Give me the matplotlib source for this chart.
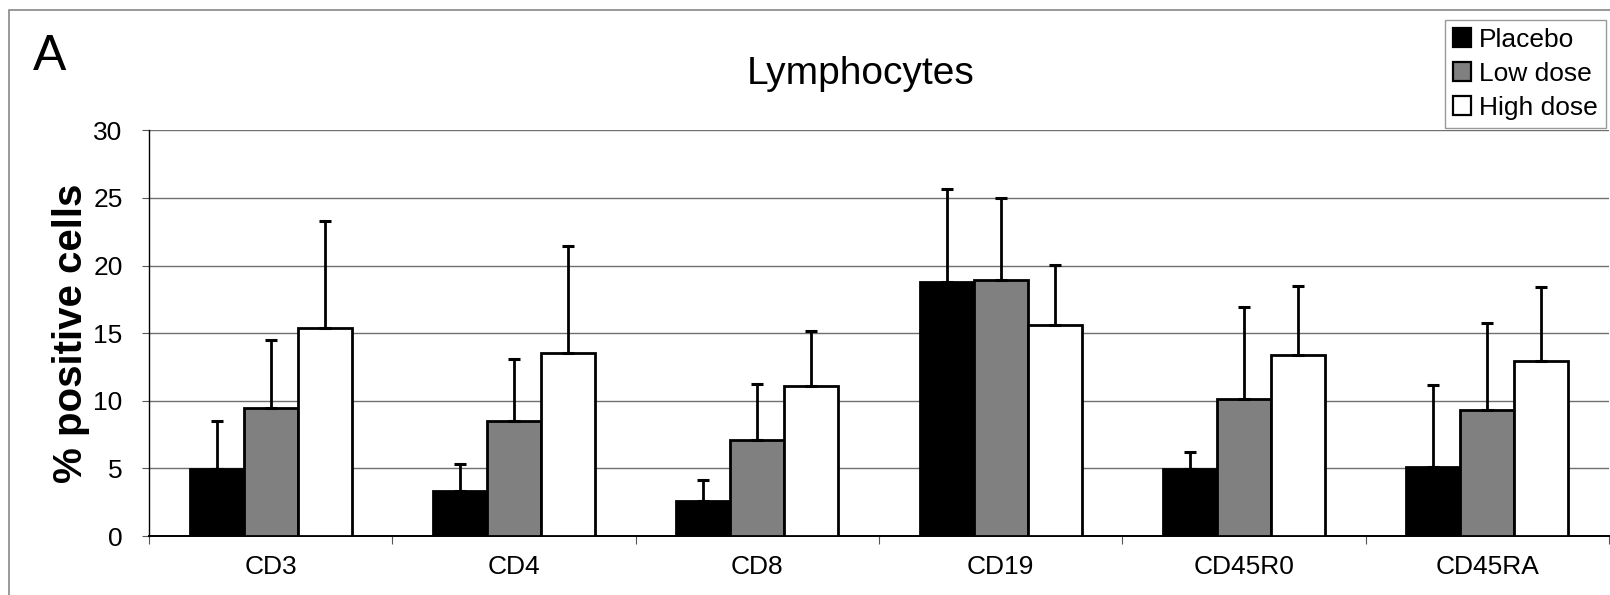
# Lymphocytes bar chart (panel A)

import numpy as np
import matplotlib
matplotlib.use('Agg')
import matplotlib.pyplot as plt
from matplotlib.patches import Patch, Rectangle

plt.rcParams['font.family'] = ['Liberation Sans', 'DejaVu Sans']

# Data
markers = ['CD3', 'CD4', 'CD8', 'CD19', 'CD45R0', 'CD45RA']
groups = ['Placebo', 'Low dose', 'High dose']
placebo = [4.93, 3.33, 2.59, 18.76, 4.95, 5.12]
low_dose = [9.48, 8.52, 7.12, 18.90, 10.12, 9.31]
high_dose = [15.35, 13.57, 11.09, 15.57, 13.40, 12.96]
placebo_sd = [3.59, 2.02, 1.53, 6.89, 1.28, 6.02]
low_dose_sd = [5.01, 4.56, 4.14, 6.10, 6.81, 6.46]
high_dose_sd = [7.95, 7.88, 4.08, 4.48, 5.08, 5.47]

means = [placebo, low_dose, high_dose]
sds = [placebo_sd, low_dose_sd, high_dose_sd]
colors = ['black', '#808080', 'white']

fig = plt.figure(figsize=(16.1, 5.95), dpi=100)
ax = fig.add_axes([149/1610, 59/595, 1460/1610, (536-130.4)/595])

x = np.arange(len(markers))
w = 0.222
for i in range(3):
    pos = x + (i - 1) * w
    ax.bar(pos, means[i], w, color=colors[i], edgecolor='black', linewidth=2.0, zorder=3)
    ax.errorbar(pos, means[i], yerr=[np.zeros(len(markers)), sds[i]], fmt='none',
                ecolor='black', elinewidth=2.0, capsize=4.5, capthick=2.2, zorder=4)

ax.set_xlim(-0.5, len(markers) - 0.5)
ax.set_ylim(0, 30)
ax.set_yticks(range(0, 31, 5))
ax.yaxis.grid(True, color='#707070', linewidth=1.0, zorder=0)
ax.set_axisbelow(True)

ax.set_xticks(x)
ax.set_xticklabels(markers, fontsize=19)
ax.set_xticks(np.arange(-0.5, len(markers)), minor=True)
ax.tick_params(axis='x', which='major', length=0, pad=14)
ax.tick_params(axis='x', which='minor', length=6, width=0.8, color='#555555')
ax.tick_params(axis='y', labelsize=19, length=5, width=0.8, color='#555555', pad=14)

for s in ['top', 'right']:
    ax.spines[s].set_visible(False)
ax.spines['left'].set_linewidth(1.0)
ax.spines['bottom'].set_linewidth(1.4)

ax.set_ylabel('% positive cells', fontsize=29, fontweight='bold', labelpad=2)

fig.text(861/1610, 1 - 74/595, 'Lymphocytes', fontsize=28, ha='center', va='center')
fig.text(33/1610, 1 - 57/595, 'A', fontsize=36, ha='left', va='center')

handles = [Patch(facecolor=c, edgecolor='black', linewidth=1.6) for c in colors]
leg = fig.legend(handles, groups, loc='upper right', bbox_to_anchor=(1606/1610, 1 - 20/595),
                 fontsize=19, frameon=True, fancybox=False, handlelength=0.7, handleheight=0.7,
                 handletextpad=0.3, labelspacing=0.38, borderpad=0.3, borderaxespad=0)
leg.get_frame().set_edgecolor('#808080')
leg.get_frame().set_linewidth(1.0)

# outer border of the panel
fig.patches.append(Rectangle((9/1610, -0.1), 1.2, 1 - 10/595 + 0.1, transform=fig.transFigure,
                             fill=False, edgecolor='#888888', linewidth=1.2))

plt.savefig('out.png', dpi=100)
